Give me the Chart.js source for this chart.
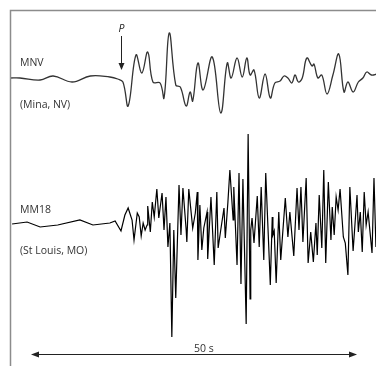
<!DOCTYPE html>
<html>
<head>
<meta charset="utf-8">
<script src="https://cdn.jsdelivr.net/npm/chart.js@4.4.1/dist/chart.umd.min.js"></script>
<style>
  html, body { margin: 0; padding: 0; background: #fff; }
  canvas { display: block; }
</style>
</head>
<body>
<canvas id="seismo" width="376" height="366"></canvas>
<script>
// Station MNV (Mina, NV): time in s, ground motion in relative units
const mnvTime = [-3.2, -1.7, 1.4, 3.4, 6.3, 9.1, 12.1, 13.3, 14.1, 14.9,
  16.1, 17.0, 17.9, 18.7, 19.8, 20.4, 21.2, 22.2, 22.9, 23.8,
  24.4, 24.8, 25.6, 26.4, 27.8, 29.1, 30.1, 30.7, 31.6, 32.4,
  33.1, 33.6, 34.2, 35.0, 35.9, 36.7, 37.4, 38.2, 38.8, 39.4,
  40.0, 40.5, 41.0, 41.6, 42.3, 43.1, 43.4, 44.0, 44.6, 45.4,
  46.3, 47.2, 48.0, 48.6, 49.4, 50.2, 50.9, 51.5, 52.2, 53.1];
const mnvAmp = [0, 0, -0.2, 0.2, -0.4, 0.2, 0.1, -0.1, -0.4, -2.8,
  2.3, 0.5, 2.6, -0.4, -0.5, -2.0, 4.5, -0.7, -0.9, -2.8,
  -1.4, -2.3, 1.5, -1.2, 2.1, -3.5, 1.5, 0.0, 2.0, 0.1,
  2.0, 0.3, 0.8, -2.0, 0.4, -2.0, -0.5, -0.3, 0.2, 0.0,
  -0.5, 0.3, -0.4, 0.0, 2.0, 1.2, 1.4, 0.0, 0.3, -1.6,
  0.3, 2.4, -1.4, -0.4, -1.4, -0.4, 0.0, 0.6, 0.3, 0.4];

// Station MM18 (St Louis, MO)
const mmTime = [-2.9, -0.6, 1.4, 4.1, 7.5, 9.5, 12.1, 12.9, 13.8, 14.4,
  14.9, 15.5, 15.8, 16.3, 16.6, 16.9, 17.2, 17.5, 17.8, 17.9,
  18.3, 18.6, 18.9, 19.3, 19.6, 20.1, 20.4, 20.7, 21.0, 21.3,
  21.6, 21.9, 22.2, 22.7, 23.0, 23.3, 23.8, 23.9, 24.2, 24.8,
  25.2, 25.5, 25.6, 25.9, 26.2, 26.5, 27.0, 27.1, 27.6, 28.1,
  28.5, 28.7, 29.1, 29.6, 29.8, 30.2, 30.5, 31.0, 31.1, 31.6,
  31.9, 32.2, 32.5, 33.0, 33.3, 33.6, 33.7, 33.9, 34.2, 34.7,
  35.0, 35.3, 35.7, 36.0, 36.7, 37.0, 37.1, 37.3, 37.6, 38.0,
  38.3, 39.0, 39.4, 39.7, 40.3, 40.8, 41.1, 41.4, 41.7, 42.2,
  42.5, 42.9, 43.3, 43.7, 43.9, 44.2, 44.6, 44.9, 45.2, 45.6,
  46.0, 46.2, 46.5, 46.8, 47.1, 47.4, 47.9, 48.2, 48.6, 48.9,
  49.4, 50.0, 50.2, 50.5, 50.8, 51.1, 51.4, 51.7, 52.3, 52.6, 52.9];
const mmAmp = [0.1, 0.3, -0.2, 0, 0.5, 0, 0.2, 0.4, -0.6, 1.0,
  1.7, 0.5, -1.5, 1.2, 0.8, -1.1, 0.2, -0.5, 0, 1.9,
  -0.7, 2.3, 0.8, 3.6, 0.7, 3.2, -0.5, 2.8, -2.2, 0.2,
  -11.2, -0.5, -7.3, 4.0, -1.0, 3.7, -0.5, -1.7, 3.6, -0.3,
  1.2, 3.3, -3.5, 2.0, -2.5, -0.3, 1.3, -3.4, 2.8, -4.0,
  3.3, -2.3, -0.5, 1.7, -1.3, 2.3, 5.5, 0.5, 3.8, -4.0,
  5.2, -5.9, 4.6, -9.9, 9.1, -7.4, -0.5, 0.7, -1.8, 2.9,
  -2.2, 3.8, -3.5, 5.2, -6.0, 0.8, -1.0, -0.6, -5.8, 1.3,
  -3.5, 2.7, -1.2, 1.3, -3.1, 3.7, -0.5, 3.8, -1.7, 4.7,
  -3.8, -0.7, -3.7, 0.2, -3.0, 3.0, -2.3, 5.5, -3.8, 4.3,
  -1.5, 1.8, -1.0, 2.8, 1.5, 3.6, -1.2, -1.8, -5.0, 3.8,
  -2.6, 3.0, -0.7, 1.3, -2.7, 3.3, 0, 1.3, -2.8, 4.7, -2.2];

const pArrival = 13.8;      // s, P wave pick on MNV
const scaleBar = [0, 50];   // s, "50 s" bar

const toPoints = (t, a) => t.map((x, i) => ({ x: x, y: a[i] }));
const FONT = "'Open Sans', 'Noto Sans', sans-serif";

// Frame, station labels, P pick and time bar
const annotations = {
  id: 'annotations',
  afterDraw(chart) {
    const ctx = chart.ctx;
    const area = chart.chartArea;
    const x = chart.scales.x;
    const yTop = chart.scales.yMNV;
    const yBot = chart.scales.yMM;
    ctx.save();

    // frame (top + left only)
    ctx.strokeStyle = '#8c8c8c';
    ctx.lineWidth = 1.5;
    ctx.beginPath();
    ctx.moveTo(area.right, area.top + 0.5);
    ctx.lineTo(area.left + 0.5, area.top + 0.5);
    ctx.lineTo(area.left + 0.5, area.bottom);
    ctx.stroke();

    // station labels
    ctx.fillStyle = '#333';
    ctx.font = '10.5px ' + FONT;
    ctx.textBaseline = 'alphabetic';
    ctx.textAlign = 'left';
    ctx.fillText('MNV', area.left + 10, yTop.getPixelForValue(1.2));
    ctx.fillText('(Mina, NV)', area.left + 10, yTop.getPixelForValue(-3.0));
    ctx.fillText('MM18', area.left + 10, yBot.getPixelForValue(1.2));
    ctx.fillText('(St Louis, MO)', area.left + 10, yBot.getPixelForValue(-2.9));

    // P arrow
    const px = Math.round(x.getPixelForValue(pArrival)) + 0.5;
    const tip = yTop.getPixelForValue(0.8);
    ctx.strokeStyle = '#222';
    ctx.fillStyle = '#222';
    ctx.lineWidth = 1;
    ctx.beginPath();
    ctx.moveTo(px, yTop.getPixelForValue(4.2));
    ctx.lineTo(px, tip - 6);
    ctx.stroke();
    ctx.beginPath();
    ctx.moveTo(px - 3, tip - 7);
    ctx.lineTo(px + 3, tip - 7);
    ctx.lineTo(px, tip);
    ctx.closePath();
    ctx.fill();
    ctx.font = 'italic 10.5px ' + FONT;
    ctx.textAlign = 'center';
    ctx.fillText('P', px, yTop.getPixelForValue(4.6));

    // 50 s bar
    const x0 = x.getPixelForValue(scaleBar[0]);
    const x1 = x.getPixelForValue(scaleBar[1]);
    const by = area.bottom - 11.5;
    ctx.beginPath();
    ctx.moveTo(x0 + 6, by);
    ctx.lineTo(x1 - 6, by);
    ctx.stroke();
    ctx.beginPath();
    ctx.moveTo(x0, by);
    ctx.lineTo(x0 + 8, by - 3);
    ctx.lineTo(x0 + 8, by + 3);
    ctx.closePath();
    ctx.moveTo(x1, by);
    ctx.lineTo(x1 - 8, by - 3);
    ctx.lineTo(x1 - 8, by + 3);
    ctx.closePath();
    ctx.fill();
    ctx.fillStyle = '#333';
    ctx.font = '10.5px ' + FONT;
    ctx.fillText('50 s', x.getPixelForValue(26.5), by - 3);

    ctx.restore();
  }
};

new Chart(document.getElementById('seismo'), {
  type: 'line',
  data: {
    datasets: [
      {
        label: 'MNV',
        data: toPoints(mnvTime, mnvAmp),
        yAxisID: 'yMNV',
        borderColor: '#333',
        borderWidth: 1.3,
        tension: 0.4,
        pointRadius: 0
      },
      {
        label: 'MM18',
        data: toPoints(mmTime, mmAmp),
        yAxisID: 'yMM',
        borderColor: '#000',
        borderWidth: 1.2,
        tension: 0,
        pointRadius: 0
      }
    ]
  },
  options: {
    responsive: false,
    animation: false,
    layout: { padding: { left: 10, top: 10, right: 0, bottom: 0 } },
    plugins: { legend: { display: false }, tooltip: { enabled: false } },
    scales: {
      x: { type: 'linear', min: -3.22, max: 52.91, display: false },
      yMNV: { type: 'linear', min: -28.8, max: 6.8, display: false },
      yMM: { type: 'linear', min: -14.1, max: 21.5, display: false }
    }
  },
  plugins: [annotations]
});
</script>
</body>
</html>
